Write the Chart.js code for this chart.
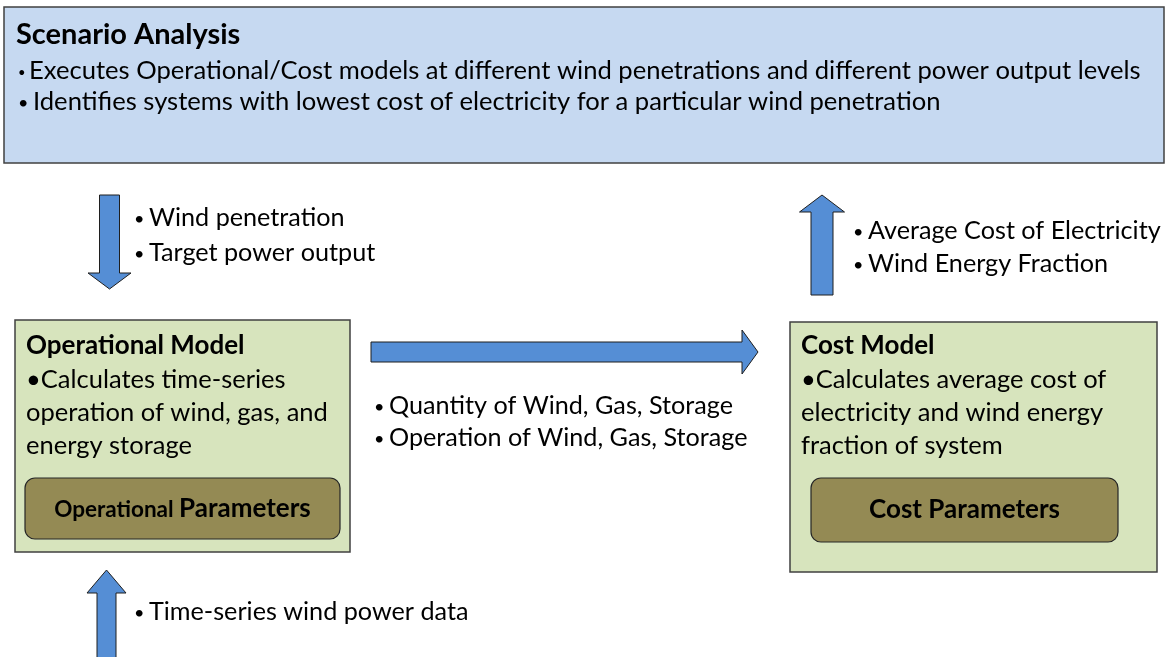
<!DOCTYPE html>
<html>
<head>
<meta charset="utf-8">
<script src="https://cdn.jsdelivr.net/npm/chart.js@4"></script>
<style>
  html, body { margin: 0; padding: 0; background: #fff; }
  #wrap { width: 1168px; height: 657px; }
</style>
</head>
<body>
<div id="wrap"><canvas id="flowChart" width="1168" height="657"></canvas></div>
<script>
// Diagram content
const boxTitles = ['Scenario Analysis', 'Operational Model', 'Cost Model'];
const boxBullets = [
    ['Executes Operational/Cost models at different wind penetrations and different power output levels',
     'Identifies systems with lowest cost of electricity for a particular wind penetration'],
    ['\u2022Calculates time-series', 'operation of wind, gas, and', 'energy storage'],
    ['\u2022Calculates average cost of', 'electricity and wind energy', 'fraction of system']
];
// parameter box labels: [smaller first word, main word]
const paramLabels = [['Operational ', 'Parameters'], ['', 'Cost Parameters']];
const flowLabels = [
    ['Wind penetration', 'Target power output'],
    ['Average Cost of Electricity', 'Wind Energy Fraction'],
    ['Quantity of Wind, Gas, Storage', 'Operation of Wind, Gas, Storage'],
    ['Time-series wind power data']
];

// Layout in diagram units (x: 0..1168, y: 0..657 top-down)
const boxRects = [[4, 7, 1164, 163], [15, 320, 350, 552], [790, 322, 1157, 572]];
const paramRects = [[25, 478, 340, 539], [811, 478, 1118, 542]];
// arrows: direction, centre line, tail, head tip, shaft half width, head half width, head length
const arrows = [
    { dir: 'down', c: 109.5, from: 195, to: 289, sw: 10, hw: 21.5, hl: 16 },
    { dir: 'up', c: 822, from: 295, to: 195, sw: 11, hw: 22.5, hl: 17 },
    { dir: 'right', c: 352, from: 371, to: 758, sw: 10, hw: 22, hl: 16 },
    { dir: 'up', c: 106.5, from: 660, to: 570, sw: 9.5, hw: 19.5, hl: 23 }
];
const flowLabelPos = [[133, 218, 35], [852, 231, 33], [373, 406, 32], [133, 612, 33]];

const FONT = 'Lato, "Open Sans", sans-serif';

const diagramPlugin = {
    id: 'diagram',
    afterDraw(chart) {
        const ctx = chart.ctx;
        const sx = chart.scales.x, sy = chart.scales.y;
        const px = v => sx.getPixelForValue(v);
        const py = v => sy.getPixelForValue(v);
        ctx.save();

        // main boxes
        const fills = ['#c6d9f1', '#d7e4bd', '#d7e4bd'];
        boxRects.forEach((r, i) => {
            ctx.fillStyle = fills[i];
            ctx.strokeStyle = '#404040';
            ctx.lineWidth = 1.5;
            ctx.fillRect(px(r[0]), py(r[1]), px(r[2]) - px(r[0]), py(r[3]) - py(r[1]));
            ctx.strokeRect(px(r[0]), py(r[1]), px(r[2]) - px(r[0]), py(r[3]) - py(r[1]));
        });

        ctx.fillStyle = '#000';
        ctx.textBaseline = 'middle';
        ctx.textAlign = 'left';

        // top box text
        ctx.font = 'bold 29px ' + FONT;
        ctx.fillText(boxTitles[0], px(16), py(35));
        ctx.font = '13px ' + FONT;
        ctx.fillText('\u2022', px(18), py(73));
        ctx.font = '18px ' + FONT;
        ctx.fillText('\u2022', px(18), py(103));
        ctx.font = '25.6px ' + FONT;
        ctx.fillText(boxBullets[0][0], px(29), py(71));
        ctx.fillText(boxBullets[0][1], px(33), py(102));

        // green boxes text
        [1, 2].forEach(i => {
            const r = boxRects[i];
            ctx.font = 'bold 26px ' + FONT;
            ctx.fillText(boxTitles[i], px(r[0] + 11), py(346));
            ctx.font = '25.5px ' + FONT;
            boxBullets[i].forEach((t, j) => {
                ctx.fillText(t, px(r[0] + 11), py(380 + j * 33));
            });
        });

        // parameter boxes
        paramRects.forEach((r, i) => {
            ctx.beginPath();
            ctx.roundRect(px(r[0]), py(r[1]), px(r[2]) - px(r[0]), py(r[3]) - py(r[1]), 10);
            ctx.fillStyle = '#948a54';
            ctx.fill();
            ctx.strokeStyle = '#262626';
            ctx.lineWidth = 1.2;
            ctx.stroke();
            ctx.fillStyle = '#000';
            const [a, b] = paramLabels[i];
            ctx.font = 'bold 22.5px ' + FONT;
            const wa = ctx.measureText(a).width;
            ctx.font = 'bold 26px ' + FONT;
            const wb = ctx.measureText(b).width;
            const x0 = (px(r[0]) + px(r[2])) / 2 - (wa + wb) / 2;
            const yc = py((r[1] + r[3]) / 2);
            ctx.font = 'bold 22.5px ' + FONT;
            ctx.fillText(a, x0, yc + 1);
            ctx.font = 'bold 26px ' + FONT;
            ctx.fillText(b, x0 + wa, yc);
        });

        // arrows
        arrows.forEach(a => {
            const s = a.dir === 'up' || a.dir === 'left' ? -1 : 1;
            const base = a.to - s * a.hl;
            let pts;
            if (a.dir === 'up' || a.dir === 'down') {
                pts = [[a.c - a.sw, a.from], [a.c + a.sw, a.from], [a.c + a.sw, base], [a.c + a.hw, base],
                       [a.c, a.to], [a.c - a.hw, base], [a.c - a.sw, base]];
            } else {
                pts = [[a.from, a.c - a.sw], [base, a.c - a.sw], [base, a.c - a.hw], [a.to, a.c],
                       [base, a.c + a.hw], [base, a.c + a.sw], [a.from, a.c + a.sw]];
            }
            ctx.beginPath();
            pts.forEach((p, k) => k ? ctx.lineTo(px(p[0]), py(p[1])) : ctx.moveTo(px(p[0]), py(p[1])));
            ctx.closePath();
            ctx.fillStyle = '#558ed5';
            ctx.fill();
            ctx.strokeStyle = '#1f1f1f';
            ctx.lineWidth = 1;
            ctx.stroke();
        });

        // arrow labels
        ctx.fillStyle = '#000';
        flowLabels.forEach((lines, i) => {
            const [x, y, gap] = flowLabelPos[i];
            lines.forEach((t, j) => {
                ctx.font = '18px ' + FONT;
                ctx.fillText('\u2022', px(x + 1), py(y + j * gap + 1));
                ctx.font = '25.2px ' + FONT;
                ctx.fillText(t, px(x + 16), py(y + j * gap));
            });
        });

        ctx.restore();
    }
};

new Chart(document.getElementById('flowChart').getContext('2d'), {
    type: 'scatter',
    data: { datasets: [{ data: [], pointRadius: 0 }] },
    options: {
        responsive: false,
        animation: false,
        layout: { padding: 0 },
        plugins: { legend: { display: false }, tooltip: { enabled: false } },
        scales: {
            x: { type: 'linear', min: 0, max: 1168, display: false },
            y: { type: 'linear', min: 0, max: 657, reverse: true, display: false }
        }
    },
    plugins: [diagramPlugin]
});
</script>
</body>
</html>
